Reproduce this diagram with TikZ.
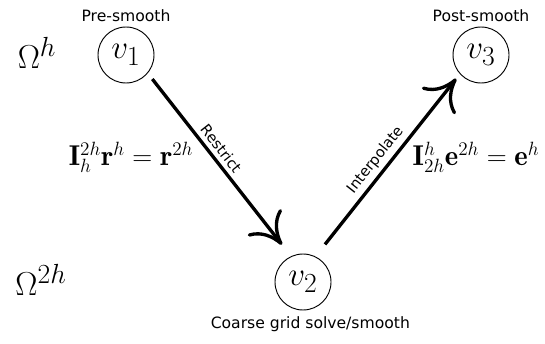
\documentclass[tikz,border=0pt]{standalone}
\usepackage{fontspec}
\setsansfont{DejaVu Sans}
\usetikzlibrary{positioning, arrows.meta}

\begin{document}
\begin{tikzpicture}[
    x=0.75pt, y=0.75pt,
    vnode/.style={circle, draw, line width=0.7pt, minimum size=42pt, inner sep=0pt, font=\Huge},
    level/.style={font=\fontsize{29}{34}\selectfont},
    eqn/.style={font=\fontsize{21.5}{26}\selectfont},
    note/.style={font=\sffamily\fontsize{11.7}{14}\selectfont},
    slabel/.style={font=\sffamily\fontsize{11}{13}\selectfont, sloped, above, inner sep=3pt},
    arrow/.style={-{Computer Modern Rightarrow[length=22pt, width=32pt]}, line width=2.5pt}
  ]
    \useasboundingbox (0,0) rectangle (545,343);

    \node[vnode] (v1) at (126,288) {$v_1$};
    \node[vnode] (v2) at (303,61) {$v_2$};
    \node[vnode] (v3) at (481,288) {$v_3$};

    \node[level] (fine) at (37,290) {$\Omega^h$};
    \node[level] (coarse) at (41,63) {$\Omega^{2h}$};

    \node[note, above=0pt of v1] (pre) {Pre-smooth};
    \node[note, above=0pt of v3] (post) {Post-smooth};
    \node[note, below=1pt of v2, xshift=5.5pt] (solve) {Coarse grid solve/smooth};

    \node[eqn] (restr) at (131,186) {$\mathbf{I}_h^{2h}\mathbf{r}^h = \mathbf{r}^{2h}$};
    \node[eqn] (interp) at (476,186) {$\mathbf{I}_{2h}^{h}\mathbf{e}^{2h} = \mathbf{e}^{h}$};

    \draw[arrow, shorten <=5.5pt, shorten >=11pt] (v1.-40) -- node[slabel, pos=0.45] {Restrict} (v2.115);
    \draw[arrow, shorten <=11.5pt, shorten >=4.5pt] (v2.64) -- node[slabel, pos=0.485] {Interpolate} (v3.222);
\end{tikzpicture}
\end{document}
